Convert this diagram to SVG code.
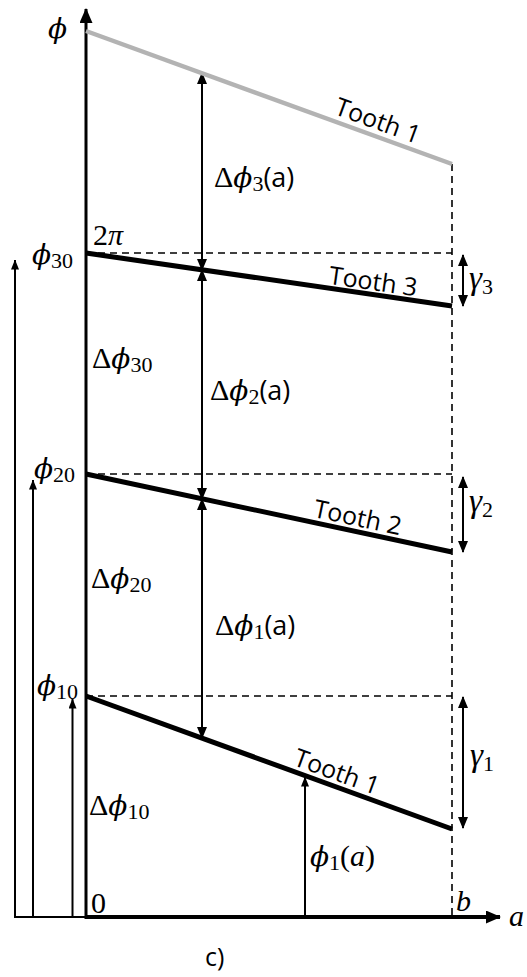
<svg xmlns="http://www.w3.org/2000/svg" width="527" height="977" viewBox="0 0 527 977">
<style>
.m{font-family:"Liberation Serif","DejaVu Serif",serif;font-size:30px;fill:#000}
.p{font-family:"DejaVu Serif","Liberation Serif",serif;font-style:italic;font-size:28px}
.i{font-style:italic}
.g{font-style:italic;font-size:33px}
.s{font-family:"Liberation Serif","DejaVu Serif",serif;font-size:22px;font-style:normal}
.t{font-family:"Open Sans","Liberation Sans",sans-serif;font-size:25px;fill:#000}
.ta{font-family:"Open Sans","Liberation Sans",sans-serif;font-size:27px;font-style:normal}
.dash{stroke:#000;stroke-width:1.6;stroke-dasharray:7 5;fill:none}
.tooth{stroke:#000;stroke-width:5;fill:none}
.dim{stroke:#000;stroke-width:2;fill:none}
</style>
<defs>
<marker id="ah" markerUnits="userSpaceOnUse" markerWidth="12" markerHeight="10" refX="11" refY="5" orient="auto-start-reverse" viewBox="0 0 12 10"><path d="M0,0 L12,5 L0,10 Z" fill="#000"/></marker>
<marker id="ahs" markerUnits="userSpaceOnUse" markerWidth="10" markerHeight="8" refX="9.5" refY="4" orient="auto" viewBox="0 0 10 8"><path d="M0,0 L10,4 L0,8 Z" fill="#000"/></marker>
<marker id="axh" markerUnits="userSpaceOnUse" markerWidth="15" markerHeight="13" refX="14" refY="6.5" orient="auto" viewBox="0 0 15 13"><path d="M0,0 L15,6.5 L0,13 Z" fill="#000"/></marker>
</defs>

<g id="connectors">
<line class="dash" x1="86" y1="253" x2="452" y2="253"/>
<line class="dash" x1="86" y1="474" x2="452" y2="474"/>
<line class="dash" x1="86" y1="696" x2="452" y2="696"/>
<line class="dash" x1="452" y1="164" x2="452" y2="917"/>
<line class="dim" x1="15" y1="917" x2="86" y2="917"/>
<line class="dim" x1="15" y1="918" x2="15" y2="260" marker-end="url(#ahs)"/>
<line class="dim" x1="33" y1="918" x2="33" y2="480" marker-end="url(#ahs)"/>
<line class="dim" x1="72.5" y1="918" x2="72.5" y2="699" marker-end="url(#ahs)"/>
<line class="dim" x1="202" y1="73" x2="202" y2="270" marker-start="url(#ah)" marker-end="url(#ah)"/>
<line class="dim" x1="202" y1="270" x2="202" y2="499" marker-start="url(#ah)" marker-end="url(#ah)"/>
<line class="dim" x1="202" y1="499" x2="202" y2="738" marker-start="url(#ah)" marker-end="url(#ah)"/>
<line class="dim" x1="305" y1="917" x2="305" y2="777" marker-end="url(#ahs)"/>
<line class="dim" x1="463" y1="255" x2="463" y2="306" marker-start="url(#ah)" marker-end="url(#ah)"/>
<line class="dim" x1="463" y1="477" x2="463" y2="552" marker-start="url(#ah)" marker-end="url(#ah)"/>
<line class="dim" x1="463" y1="697" x2="463" y2="828" marker-start="url(#ah)" marker-end="url(#ah)"/>
</g>

<g id="axes">
<line x1="86" y1="919" x2="86" y2="9" stroke="#000" stroke-width="3" marker-end="url(#axh)"/>
<line x1="85" y1="917" x2="500" y2="917" stroke="#000" stroke-width="4" marker-end="url(#axh)"/>
<text class="m" x="48" y="38"><tspan class="p">ϕ</tspan></text>
<text class="m i" x="509" y="926" font-size="33">a</text>
<text class="m" x="91" y="913">0</text>
<text class="m i" x="456" y="911" font-size="32">b</text>
<text class="m" x="93" y="245">2<tspan class="i">π</tspan></text>
</g>

<g id="tooth1-gray">
<line x1="86" y1="31" x2="452" y2="164" stroke="#b3b3b3" stroke-width="4.5"/>
<text class="t" text-anchor="middle" transform="translate(375 129) rotate(20)">Tooth 1</text>
</g>

<g id="tooth3">
<line class="tooth" x1="86" y1="253" x2="452" y2="306"/>
<text class="t" text-anchor="middle" transform="translate(372 290) rotate(8.2)">Tooth 3</text>
</g>

<g id="tooth2">
<line class="tooth" x1="86" y1="474" x2="452" y2="552"/>
<text class="t" text-anchor="middle" transform="translate(356 526) rotate(12)">Tooth 2</text>
</g>

<g id="tooth1">
<line class="tooth" x1="86" y1="696" x2="452" y2="829"/>
<text class="t" text-anchor="middle" transform="translate(334 780) rotate(20)">Tooth 1</text>
</g>

<g id="labels">
<text class="m" x="32" y="264"><tspan class="p">ϕ</tspan><tspan class="s" dy="4">30</tspan></text>
<text class="m" x="34" y="478"><tspan class="p">ϕ</tspan><tspan class="s" dy="4">20</tspan></text>
<text class="m" x="37" y="695"><tspan class="p">ϕ</tspan><tspan class="s" dy="4">10</tspan></text>

<text class="m" x="92" y="368">Δ<tspan class="p">ϕ</tspan><tspan class="s" dy="4">30</tspan></text>
<text class="m" x="91" y="588">Δ<tspan class="p">ϕ</tspan><tspan class="s" dy="4">20</tspan></text>
<text class="m" x="89" y="815">Δ<tspan class="p">ϕ</tspan><tspan class="s" dy="4">10</tspan></text>

<text class="m" x="214" y="187">Δ<tspan class="p">ϕ</tspan><tspan class="s" dy="4">3</tspan><tspan class="ta" dy="-4">(a)</tspan></text>
<text class="m" x="210" y="400">Δ<tspan class="p">ϕ</tspan><tspan class="s" dy="4">2</tspan><tspan class="ta" dy="-4">(a)</tspan></text>
<text class="m" x="215" y="635">Δ<tspan class="p">ϕ</tspan><tspan class="s" dy="4">1</tspan><tspan class="ta" dy="-4">(a)</tspan></text>

<text class="m" x="310" y="866"><tspan class="p">ϕ</tspan><tspan class="s" dy="4">1</tspan><tspan dy="-4">(</tspan><tspan class="i">a</tspan>)</text>

<text class="m" x="469" y="289"><tspan class="g">γ</tspan><tspan class="s" dy="5">3</tspan></text>
<text class="m" x="469" y="512"><tspan class="g">γ</tspan><tspan class="s" dy="5">2</tspan></text>
<text class="m" x="470" y="766"><tspan class="g">γ</tspan><tspan class="s" dy="5">1</tspan></text>

<text class="t" x="205" y="966" font-size="24">c)</text>
</g>
</svg>
